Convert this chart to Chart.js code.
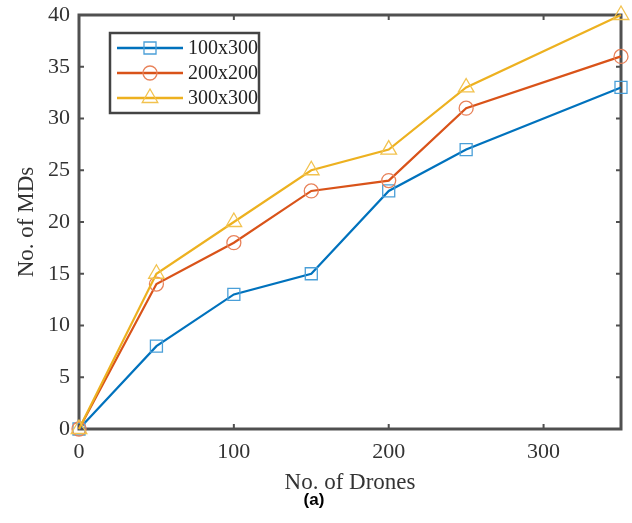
<!DOCTYPE html>
<html lang="en">
<head>
  <meta charset="UTF-8">
  <title>No. of MDs vs No. of Drones</title>
  <script src="https://cdn.jsdelivr.net/npm/chart.js"></script>
  <style>
    body { margin: 0; background: #fff; }
    #wrap { position: relative; width: 632px; height: 523px; }
    #caption {
      position: absolute; left: 0; width: 628px; top: 490px;
      text-align: center;
      font: bold 17px 'Liberation Sans', Arial, sans-serif;
      color: #000;
    }
  </style>
</head>
<body>
  <div id="wrap">
    <canvas id="grafico" width="632" height="523"></canvas>
    <div id="caption">(a)</div>
  </div>

  <script>
    const drones = [0, 50, 100, 150, 200, 250, 350];
    const mds100x300 = [0, 8, 13, 15, 23, 27, 33];
    const mds200x200 = [0, 14, 18, 23, 24, 31, 36];
    const mds300x300 = [0, 15, 20, 25, 27, 33, 40];
    const xTicks = [0, 100, 200, 300];
    const yTicks = [0, 5, 10, 15, 20, 25, 30, 35, 40];

    const serif = "'Liberation Serif', 'Times New Roman', serif";
    const axisColor = '#505050';

    function pts(ys) {
      return drones.map((x, i) => ({ x: x, y: ys[i] }));
    }

    // box + inward ticks + legend inside the plot
    const boxPlugin = {
      id: 'box',
      beforeDatasetsDraw(chart) {
        const ctx = chart.ctx;
        const a = chart.chartArea;
        const xs = chart.scales.x, ys = chart.scales.y;
        ctx.save();
        ctx.strokeStyle = axisColor;
        ctx.lineWidth = 3;
        ctx.strokeRect(a.left, a.top, a.right - a.left, a.bottom - a.top);

        ctx.lineWidth = 2;
        const t = 5;
        ctx.beginPath();
        xTicks.forEach(v => {
          const px = xs.getPixelForValue(v);
          ctx.moveTo(px, a.bottom); ctx.lineTo(px, a.bottom - t);
          ctx.moveTo(px, a.top); ctx.lineTo(px, a.top + t);
        });
        yTicks.forEach(v => {
          const py = ys.getPixelForValue(v);
          ctx.moveTo(a.left, py); ctx.lineTo(a.left + t, py);
          ctx.moveTo(a.right, py); ctx.lineTo(a.right - t, py);
        });
        ctx.stroke();
        ctx.restore();
      },
      afterDraw(chart) {
        const ctx = chart.ctx;
        ctx.save();
        // legend
        const lx = 110, ly = 33, lw = 149, lh = 80;
        ctx.fillStyle = '#fff';
        ctx.fillRect(lx, ly, lw, lh);
        ctx.lineWidth = 2.5;
        ctx.strokeStyle = '#444';
        ctx.strokeRect(lx, ly, lw, lh);
        const rows = [48, 73, 98];
        chart.data.datasets.forEach((ds, i) => {
          const y = rows[i];
          ctx.strokeStyle = ds.borderColor;
          ctx.lineWidth = 2.5;
          ctx.beginPath();
          ctx.moveTo(117, y); ctx.lineTo(183, y);
          ctx.stroke();
          ctx.strokeStyle = ds.pointBorderColor;
          ctx.fillStyle = 'rgba(0,0,0,0)';
          ctx.lineWidth = 1.3;
          Chart.helpers.drawPoint(ctx, {
            pointStyle: ds.pointStyle, radius: ds.pointRadius, rotation: 0, borderWidth: 1.3
          }, 150, y);
          ctx.fillStyle = '#222';
          ctx.font = '20px ' + serif;
          ctx.textBaseline = 'middle';
          ctx.textAlign = 'left';
          ctx.fillText(ds.label, 188, y + 1);
        });
        ctx.restore();
      }
    };

    new Chart(document.getElementById('grafico'), {
      type: 'line',
      data: {
        datasets: [
          {
            label: '100x300', data: pts(mds100x300),
            borderColor: '#0072BD', pointBorderColor: '#4a9fd8',
            pointStyle: 'rect', pointRadius: 8.5, order: 3, clip: false
          },
          {
            label: '200x200', data: pts(mds200x200),
            borderColor: '#D95319', pointBorderColor: '#e8825a',
            pointStyle: 'circle', pointRadius: 7, order: 2, clip: false
          },
          {
            label: '300x300', data: pts(mds300x300),
            borderColor: '#EDB120', pointBorderColor: '#f2c24e',
            pointStyle: 'triangle', pointRadius: 9, order: 1, clip: false
          }
        ]
      },
      options: {
        responsive: false,
        animation: false,
        elements: {
          line: { borderWidth: 2.2, tension: 0 },
          point: { backgroundColor: 'rgba(0,0,0,0)', borderWidth: 1.3 }
        },
        layout: { padding: { top: 15, right: 11, left: 0, bottom: 0 } },
        plugins: {
          legend: { display: false },
          tooltip: { enabled: false }
        },
        scales: {
          x: {
            type: 'linear', min: 0, max: 350,
            afterBuildTicks: s => { s.ticks = xTicks.map(v => ({ value: v })); },
            afterFit: s => { s.height = 94; s.paddingLeft = 0; s.paddingRight = 0; },
            grid: { display: false, drawTicks: false },
            border: { display: false },
            ticks: { color: '#333', padding: 10, font: { family: serif, size: 22 } },
            title: {
              display: true, text: 'No. of Drones', color: '#333',
              font: { family: serif, size: 23 }, padding: { top: 0, bottom: 26 }
            }
          },
          y: {
            min: 0, max: 40,
            afterBuildTicks: s => { s.ticks = yTicks.map(v => ({ value: v })); },
            afterFit: s => { s.width = 79; s.paddingTop = 0; s.paddingBottom = 0; },
            grid: { display: false, drawTicks: false },
            border: { display: false },
            ticks: { color: '#333', padding: 9, font: { family: serif, size: 22 } },
            title: {
              display: true, text: 'No. of MDs', color: '#333',
              font: { family: serif, size: 23 }, padding: { top: 13, bottom: 0 }
            }
          }
        }
      },
      plugins: [boxPlugin]
    });
  </script>
</body>
</html>
